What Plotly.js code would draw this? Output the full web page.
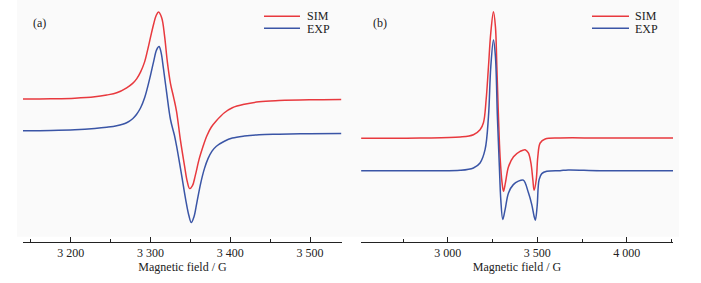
<!DOCTYPE html>
<html>
<head>
<meta charset="utf-8">
<script src="https://cdn.plot.ly/plotly-3.0.1.min.js"></script>
<style>html,body{margin:0;padding:0;background:#fff;}#chart{width:701px;height:283px;}</style>
</head>
<body>
<div id="chart"></div>
<script>
// Panel (a) — field (G) and intensities (a.u.)
const fieldA = [3140,3175,3205,3230,3245,3257.5,3270,3277.5,3282.5,3287.5,3292.5,3296,3300,3304,3307,3310,3314,3317.5,3321,3325,3329,3332.5,3337.5,3342.5,3346,3349,3352.5,3356,3361,3365.6,3370.6,3376,3382.5,3392.5,3402.5,3417.5,3436,3461,3499,3539];
const simA = [140.7,141,141.6,143,144.8,147,152,156.5,161,168,178,189,203,216.5,224.5,228,222,204,178,156,142,128.5,99,74,58,51,54,64,81,93,104,112.5,119,127,132,135.5,138,139.2,140,140.3];
const fieldAexp = [3140,3175,3205,3230,3245,3257.5,3270,3277.5,3282.5,3287.5,3292.5,3296,3300,3304,3307.5,3310.6,3313,3316,3320,3325,3330,3332.5,3339,3344,3348,3351,3354.5,3358,3363,3367.5,3372,3377,3382.5,3392.5,3402.5,3417.5,3436,3461,3499,3539];
const expA = [109,109.3,110,111.3,112.5,114,117,121,125.5,132,142,152,165,179,190,193.3,188,172,148,120,104,94,64,40,24,17,23,37,57,71,81,88.5,93.5,98.5,101.7,103.7,105,105.5,106,106.2];

// Panel (b)
const fieldB = [2516,2845,3069,3143,3180,3199,3214,3227,3240,3255,3266,3274,3283,3292,3303,3311,3322,3339,3367,3404,3432,3450,3464,3475,3482,3494,3503,3516,3544,3627,3851,4258];
const simB = [101.5,101.7,102.7,105,110,117,140,173,207,228.3,213.3,173,123,83,57,48.3,57,73,83,88.3,90,86.7,77,60,49.3,60,83.3,96.7,100.7,101.7,101.7,101.7];
const fieldBexp = [2516,2845,3069,3143,3180,3208,3227,3240,3255,3266,3277,3288,3296,3307,3320,3339,3366,3394,3422,3450,3469,3482,3489,3499,3510,3525,3553,3627,3672,3851,4258];
const expB = [69,69,69.3,71.7,76.7,90,123,173,200,183.3,123,73,40,20,30,46.7,55,58.5,59.5,47,35,23.3,19.3,33.3,60,66,68.3,69,69.7,69,69];

const ticksA = [3200,3300,3400,3500];
const tickTextA = ['3 200','3 300','3 400','3 500'];
const minorA = [3150,3250,3350,3450];
const ticksB = [3000,3500,4000];
const tickTextB = ['3 000','3 500','4 000'];
const minorB = [2750,3250,3750,4250];

const RED = '#e8393e', BLUE = '#3a55a6';
const FONT = 'Liberation Serif, Times New Roman, serif';
const W = 701, H = 283;

const ln = c => ({color:c, width:1.5, shape:'spline', smoothing:1});
const traces = [
  {x: fieldA, y: simA, xaxis:'x', yaxis:'y', name:'SIM', mode:'lines', line:ln(RED)},
  {x: fieldAexp, y: expA, xaxis:'x', yaxis:'y', name:'EXP', mode:'lines', line:ln(BLUE)},
  {x: fieldB, y: simB, xaxis:'x2', yaxis:'y2', name:'SIM', mode:'lines', line:ln(RED)},
  {x: fieldBexp, y: expB, xaxis:'x2', yaxis:'y2', name:'EXP', mode:'lines', line:ln(BLUE)}
];

function xax(domain, range, tv, tt, mv) {
  return {
    domain: domain, range: range, showgrid:false, zeroline:false,
    showline:true, linecolor:'#222', linewidth:1,
    ticks:'inside', ticklen:5, tickwidth:1, tickcolor:'#222',
    tickvals: tv, ticktext: tt,
    minor: {tickvals: mv, ticks:'inside', ticklen:3, tickwidth:1, tickcolor:'#222'},
    tickfont:{family:FONT, size:12, color:'#222'},
    title:{text:'Magnetic field / G', font:{family:FONT, size:12, color:'#222'}, standoff:3},
    fixedrange:true
  };
}
function yax(anchor) {
  return {visible:false, range:[-2.5, 240], anchor:anchor, fixedrange:true};
}

const px = v => v / W, py = v => 1 - v / H;
const shapes = [
  {type:'rect', xref:'paper', yref:'paper', x0:px(17), x1:px(679), y0:py(277), y1:py(0), fillcolor:'#fafafa', line:{width:0}, layer:'below'},
  {type:'line', xref:'paper', yref:'paper', x0:px(264), x1:px(300), y0:py(19), y1:py(19), line:{color:RED, width:1.5}},
  {type:'line', xref:'paper', yref:'paper', x0:px(264), x1:px(300), y0:py(33), y1:py(33), line:{color:BLUE, width:1.5}},
  {type:'line', xref:'paper', yref:'paper', x0:px(592), x1:px(629), y0:py(19), y1:py(19), line:{color:RED, width:1.5}},
  {type:'line', xref:'paper', yref:'paper', x0:px(592), x1:px(629), y0:py(33), y1:py(33), line:{color:BLUE, width:1.5}}
];
const ann = (x, y, t) => ({xref:'paper', yref:'paper', x:px(x), y:py(y), text:t, showarrow:false, xanchor:'left', yanchor:'middle', borderpad:0, font:{family:FONT, size:12, color:'#222'}});
const annotations = [
  ann(306, 19, 'SIM'), ann(306, 33.5, 'EXP'),
  ann(634, 19, 'SIM'), ann(634, 33.5, 'EXP'),
  ann(32, 27, '(a)'), ann(372, 27, '(b)')
];

const layout = {
  width: W, height: H,
  margin: {l:0, r:0, t:0, b:40.5, pad:0},
  paper_bgcolor:'#ffffff', plot_bgcolor:'rgba(0,0,0,0)',
  showlegend:false,
  xaxis: xax([23/W, 342/W], [3140, 3540], ticksA, tickTextA, minorA),
  yaxis: yax('x'),
  xaxis2: xax([361/W, 673/W], [2515, 4258], ticksB, tickTextB, minorB),
  yaxis2: yax('x2'),
  shapes: shapes, annotations: annotations
};
Plotly.newPlot('chart', traces, layout, {staticPlot:true, displayModeBar:false});
</script>
</body>
</html>
